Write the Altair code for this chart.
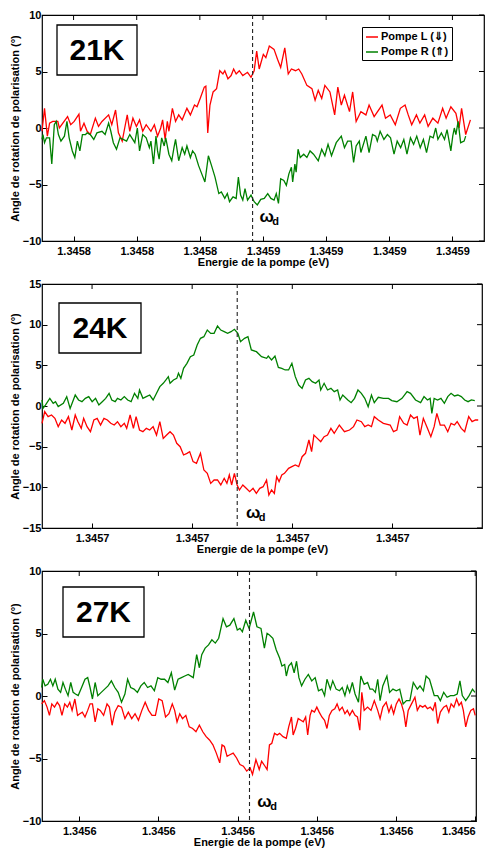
import altair as alt
import pandas as pd

# ---------------- data ----------------
SERIES = ["Pompe L (⇓)", "Pompe R (⇑)"]
COLORS = ["#ff0000", "#008000"]
TEMPS = ["21K", "24K", "27K"]
Y_TITLE = "Angle de rotation de polarisation (°)"
X_TITLE = "Energie de la pompe (eV)"

# energies are given as offsets (µeV) from a reference energy (eV) per panel
E_REF = [1.34579, 1.34567, 1.34555]
OMEGA_D = [1.3458567, 1.3456945, 1.3455815]
X_DOMAIN = [[1.34579, 1.34593], [1.345675, 1.34571895], [1.3455553, 1.3456101]]
X_TICKS = [[1.34580, 1.34582, 1.34584, 1.34586, 1.34588, 1.34590, 1.34592],
           [1.34568, 1.34569, 1.34570, 1.34571],
           [1.34556, 1.34557, 1.34558, 1.34559, 1.34560, 1.34561]]
Y_DOMAIN = [[-10, 10], [-15, 15], [-10, 10]]
Y_TICKS = [[-10, -5, 0, 5, 10], [-15, -10, -5, 0, 5, 10, 15], [-10, -5, 0, 5, 10]]

# ---- 21K ----
x21_L = [0.0, 0.8, 1.7, 2.4, 3.4, 5.0, 5.5, 8.1, 9.1, 10.2, 11.7, 12.2, 13.3, 14.3, 15.3, 16.9, 17.9, 19.0,
         21.1, 22.1, 23.3, 24.2, 25.4, 26.2, 27.0, 27.8, 28.8, 29.9, 30.9, 31.9, 33.0, 34.5, 35.6, 36.6,
         37.6, 38.2, 39.0, 39.7, 40.2, 41.3, 42.3, 43.3, 44.4, 45.9, 47.0, 48.3, 49.1, 50.1, 51.4, 51.9,
         52.5, 53.2, 54.2, 55.3, 56.3, 57.3, 57.9, 58.9, 59.9, 60.7, 61.5, 62.5, 63.6, 65.1, 66.2, 67.2,
         68.0, 68.8, 70.1,
         70.9, 72.0, 73.5, 74.6, 75.6, 76.9, 78.0, 79.0, 80.3, 81.3, 82.3, 83.9, 85.5, 86.5, 87.5, 88.6,
         89.6, 91.2, 92.7, 93.7, 94.8, 95.8, 97.4, 98.4, 99.5, 101.0, 102.6, 103.6, 105.2, 107.7, 108.8,
         110.3, 111.9, 113.5, 115.0, 116.0, 117.1, 118.6, 119.7, 121.2, 122.3, 123.8, 125.4, 126.9, 128.0,
         129.5, 131.1, 132.1, 132.9, 134.2, 135.7]
y21_L = [-0.29, 1.74, -0.72, 0.43, 0.58, 0.58, 0.0, 1.01, 0.29, 0.58, 1.22, -0.29, 0.43, -0.29, -0.58, 0.87,
         0.14, 0.58, 1.16, 0.29, 1.59, -0.43, -1.16, 0.0, 1.16, -0.29, 0.87, 0.14, 0.72, -0.29, 0.29, -0.29,
         0.29, -0.72, 0.0, 0.72, -1.01, 0.58, -0.29, 1.74, 0.58, 1.16, 0.72, 1.74, 1.16, 2.03, 1.88, 2.61,
         3.62, 3.71, -0.43, 2.03, 3.19, 3.48, 5.07, 4.78, 5.07, 4.35, 4.64, 5.22, 4.78, 5.07, 4.64, 4.93,
         4.49, 5.07, 6.81, 5.22, 6.52,
         6.23, 7.25, 6.96, 6.09, 5.36, 7.10, 4.78, 5.22, 5.07, 5.22, 4.78, 3.77, 3.48, 2.46, 3.33, 2.61,
         3.77, 3.19, 1.16, 3.62, 2.03, 2.90, 1.45, 3.19, 0.58, 1.45, 1.16, 2.03, 1.01, 2.03, 0.87, 1.16,
         0.29, 1.74, 2.03, 1.16, 0.29, 1.16, 0.43, 1.16, 0.14, 0.87, 0.43, 1.74, 0.87, 1.88, 1.30, 0.0,
         1.74, -0.58, 0.72]
x21_R = [0.0, 0.3, 0.8, 1.4, 2.4, 3.1, 3.9, 4.5, 5.2, 6.0, 7.1, 7.9, 8.6, 9.6, 10.4, 11.2, 12.0, 12.8, 13.8,
         14.3, 15.3, 16.4, 17.4, 19.0, 20.0, 21.1, 21.8, 22.6, 23.6, 24.7, 25.7, 26.8, 27.8, 29.4, 30.2,
         30.9, 31.9, 33.0, 34.0, 34.5, 35.3, 36.1, 36.6, 37.1, 37.9, 38.7, 39.2, 40.2, 41.1, 41.8, 42.3,
         43.3, 44.4, 45.2, 45.9, 47.0, 47.7, 48.5, 49.6, 50.6, 51.6, 52.7, 53.7, 54.8, 56.0, 56.8, 57.9,
         58.7, 59.4, 60.5, 61.5, 62.2, 62.9, 63.6, 64.3, 65.1, 66.2, 67.2, 68.2, 69.3,
         70.4, 71.5, 72.5, 73.5, 74.2, 74.9, 75.6, 76.6, 77.4, 78.2, 79.0, 79.4, 80.1, 80.5, 81.1, 81.8,
         82.9, 83.9, 84.9, 86.0, 87.5, 88.6, 89.6, 90.6, 91.7, 93.2, 94.8, 95.8, 96.8, 97.9, 98.7, 99.5,
         100.5, 101.0, 102.6, 103.6, 104.7, 105.7, 106.2, 107.1, 108.3, 109.4, 110.4, 111.5, 112.5, 113.6,
         114.6, 115.6, 116.7, 117.7, 118.7, 119.8, 120.8, 121.8, 122.9, 123.9, 124.7, 125.4, 126.5, 127.5,
         128.3, 129.5, 130.1, 130.6, 131.1, 131.8, 132.6, 133.7, 134.2]
y21_R = [-1.01, -0.58, -1.30, -0.87, -0.87, -3.19, 0.29, 0.58, -0.58, -1.16, -0.72, 0.58, -0.87, -2.03,
         -2.61, -1.16, -2.03, -0.58, -0.58, -0.43, -0.58, -1.01, -0.43, -0.29, -0.58, 0.43, -0.29, -1.30,
         -1.88, -0.87, -1.01, -1.16, -0.58, -1.30, 0.0, -2.03, -0.58, -0.87, -1.74, -1.16, -3.19, -0.72,
         -2.03, -2.75, -0.87, -1.59, -0.87, -2.32, -2.90, -1.74, -1.01, -2.90, -1.74, -2.32, -1.59, -2.61,
         -2.03, -2.32, -3.33, -4.06, -4.78, -2.46, -3.33, -4.35, -5.80, -5.65, -6.23, -5.80, -6.52, -6.09,
         -6.23, -4.35, -5.94, -6.38, -5.36, -6.38, -5.94, -6.52, -6.81, -6.32,
         -6.23, -5.80, -6.23, -6.38, -5.80, -6.67, -4.49, -4.64, -5.07, -4.06, -3.48, -4.78, -3.19, -3.91,
         -1.88, -2.61, -2.32, -2.61, -2.03, -2.32, -2.90, -1.88, -2.46, -1.45, -2.46, -1.30, -0.72, -1.74,
         -1.16, -1.16, -3.04, -1.59, -1.16, -2.17, -0.72, -2.17, -0.58, -0.72, -1.16, -0.29, -1.01, -0.58,
         -0.87, -2.32, -1.16, -1.74, -1.01, -2.32, -0.87, -1.45, -0.72, -1.74, -1.01, -2.17, -0.72, -0.87,
         0.0, -1.01, -0.43, -1.01, -0.14, -2.03, -0.72, 0.0, -0.58, 0.58, -1.30, -1.16, -0.72]

# ---- 24K ----
x24_L = [5.00, 5.27, 5.61, 5.95, 6.29, 6.62, 6.96, 7.30, 7.64, 7.98, 8.32, 8.59, 8.92, 9.16, 9.50, 9.84,
         10.18, 10.51, 10.85, 11.19, 11.53, 11.87, 12.21, 12.54, 12.88, 13.22, 13.46, 13.80, 14.13, 14.40,
         14.74, 15.08, 15.42, 15.76, 16.10, 16.44, 16.77, 17.11, 17.45, 17.79, 18.13, 18.46, 18.80, 19.14,
         19.48, 19.75, 20.09, 20.43, 20.83, 21.17, 21.51, 21.85, 22.19, 22.53, 22.86, 23.20, 23.47, 23.71,
         23.94, 24.22, 24.49, 24.72, 25.06, 25.40, 25.74, 26.08, 26.41, 26.75, 27.09, 27.43,
         27.66, 27.93, 28.21, 28.44, 28.68, 28.95, 29.22, 29.63, 29.96, 30.30, 30.64, 30.98, 31.32, 31.66,
         31.93, 32.16, 32.50, 32.84, 33.18, 33.52, 33.86, 34.19, 34.70, 35.21, 35.72, 36.12, 36.46, 36.90,
         37.24, 37.58, 37.91, 38.19, 38.59, 39.10, 39.78, 40.11, 40.45, 40.72, 41.13, 41.47, 41.81, 42.14,
         42.48, 42.75, 43.09, 43.50, 43.84, 44.17, 44.44, 44.78, 45.19, 45.53, 45.86, 46.20, 46.47, 46.88,
         47.22, 47.62, 47.96, 48.30, 48.57]
y24_L = [-2.13, -0.70, -1.31, -1.11, -1.52, -2.54, -1.72, -2.13, -1.31, -2.95, -1.11, -1.93, -2.75, -1.52,
         -2.54, -3.16, -1.72, -1.52, -2.34, -1.52, -1.72, -2.13, -2.34, -1.93, -2.54, -2.13, -2.75, -1.11,
         -2.75, -1.31, -2.95, -3.16, -2.75, -2.95, -2.54, -3.57, -1.93, -3.98, -3.57, -3.16, -3.57, -4.59,
         -5.00, -6.02, -5.82, -5.61, -6.84, -7.05, -5.82, -7.87, -8.28, -9.51, -9.10, -9.10, -9.71, -8.89,
         -9.51, -8.48, -9.71, -8.28, -9.71, -10.33, -9.71, -10.12, -10.53, -10.12, -10.74, -10.12, -9.92,
         -9.10,
         -10.94, -10.33, -10.74, -8.69, -9.30, -8.48, -8.28, -7.66, -7.46, -7.25, -7.46, -6.23, -5.82,
         -4.18, -5.61, -3.57, -3.98, -4.39, -3.77, -3.57, -2.75, -3.36, -2.34, -3.16, -2.95, -2.54, -1.72,
         -1.93, -2.54, -2.34, -2.54, -1.31, -1.72, -2.13, -2.34, -3.16, -2.95, -1.31, -2.13, -2.34, -1.11,
         -1.52, -1.31, -3.57, -1.52, -2.75, -3.77, -2.54, -0.90, -2.34, -2.34, -3.16, -2.13, -2.34, -1.93,
         -2.75, -3.16, -1.31, -1.93, -1.72, -1.72]
x24_R = [5.00, 5.10, 5.34, 5.78, 6.12, 6.35, 6.62, 7.13, 7.47, 7.81, 8.32, 8.65, 8.99, 9.33, 9.67, 10.01,
         10.35, 10.68, 11.02, 11.36, 11.70, 11.97, 12.31, 12.54, 12.88, 13.22, 13.56, 13.90, 14.24, 14.57,
         14.74, 15.08, 15.42, 15.76, 16.10, 16.44, 16.77, 17.11, 17.38, 17.62, 17.79, 18.13, 18.46, 18.63,
         18.87, 19.14, 19.48, 19.82, 20.16, 20.50, 20.83, 21.17, 21.51, 21.85, 22.19, 22.53, 22.86, 23.20,
         23.54, 23.88, 24.22, 24.56, 24.83, 25.23, 25.57, 25.91, 26.42, 26.93, 27.44,
         27.60, 27.93, 28.27, 28.61, 28.95, 29.29, 29.63, 29.96, 30.30, 30.64, 30.98, 31.32, 31.66, 31.99,
         32.33, 32.67, 32.84, 33.18, 33.52, 33.86, 34.19, 34.53, 34.77, 35.04, 35.55, 35.88, 36.22, 36.56,
         36.90, 37.24, 37.58, 37.91, 38.19, 38.59, 39.10, 39.61, 39.94, 40.45, 40.96, 41.47, 41.81, 42.31,
         42.82, 43.16, 43.50, 43.77, 43.94, 44.17, 44.51, 44.85, 45.19, 45.53, 45.86, 46.20, 46.54, 46.88,
         47.22, 47.56, 47.89, 48.23]
y24_R = [0.74, -0.29, 0.12, 0.94, 0.33, 0.53, -0.08, 0.33, 1.15, -0.29, 1.35, 0.74, 0.53, 0.94, 1.15, 0.53,
         0.94, 0.12, 0.53, 0.94, 1.56, 0.74, 0.53, 0.94, 0.74, 1.15, 0.74, 0.53, 1.56, 0.94, 1.97, 0.94,
         1.15, 1.35, 0.74, 1.56, 2.38, 2.79, 3.20, 3.61, 2.79, 3.20, 3.40, 4.02, 3.40, 4.63, 5.25, 6.07,
         6.27, 7.50, 8.32, 8.52, 9.34, 8.93, 8.93, 9.84, 9.34, 9.14, 8.93, 9.14, 9.43, 8.93, 7.91, 8.32,
         8.52, 6.89, 6.68, 6.07, 5.86,
         6.15, 5.66, 6.15, 4.75, 4.63, 4.43, 4.43, 5.25, 3.61, 2.58, 2.17, 3.20, 3.40, 2.99, 2.79, 3.20,
         1.97, 2.79, 1.97, 2.17, 1.76, 1.97, 0.74, 1.35, 0.74, 0.41, 0.94, 1.97, 1.56, 0.94, -0.08, 1.35,
         0.41, 1.07, 0.94, 0.94, 0.66, 0.53, 0.94, 1.76, 1.56, 0.74, 0.41, 1.15, 0.74, 0.94, -0.90, 0.94,
         0.74, 0.94, 0.33, 1.15, 1.56, 1.23, 1.35, 1.15, 0.74, 0.53, 0.74, 0.66]

# ---- 27K ----
x27_L = [5.26, 5.60, 5.94, 6.24, 6.54, 6.88, 7.23, 7.52, 7.82, 8.17, 8.51, 8.81, 9.10, 9.45, 9.79, 10.09,
         10.39, 10.73, 11.07, 11.37, 11.67, 12.01, 12.35, 12.65, 13.08, 13.51, 13.81, 14.15, 14.49, 14.92,
         15.34, 15.77, 16.20, 16.63, 17.05, 17.48, 17.91, 18.33, 18.76, 19.19, 19.62, 20.04, 20.47, 20.90,
         21.33, 21.75, 22.05, 22.35, 22.69, 23.04, 23.46, 23.89, 24.32, 24.74, 25.17, 25.60, 26.03, 26.45,
         26.88, 27.31, 27.74, 28.03, 28.33, 28.67, 29.02, 29.44, 29.87, 30.30, 30.73, 31.15, 31.58, 31.88,
         32.31, 32.73, 33.03, 33.46,
         33.72, 34.02, 34.32, 34.66, 35.00, 35.30, 35.73, 36.15, 36.45, 36.80, 37.01, 37.31, 37.65, 37.99,
         38.29, 38.59, 38.85, 39.15, 39.36, 39.70, 40.00, 40.30, 40.64, 40.98, 41.28, 41.58, 41.92, 42.27,
         42.56, 42.86, 43.21, 43.55, 43.85, 44.15, 44.49, 44.83, 45.13, 45.43, 45.68, 45.98, 46.41, 46.84,
         47.26, 47.69, 47.99, 48.33, 48.76, 49.10, 49.40, 49.70, 50.04, 50.38, 50.68, 50.98, 51.24, 51.54,
         51.96, 52.39, 52.69, 53.03, 53.37, 53.67, 53.97, 54.32, 54.66, 54.96, 55.26, 55.60, 56.02, 56.37,
         56.67, 56.96, 57.31, 57.65, 57.95, 58.25, 58.50, 58.80, 59.10, 59.44, 59.78, 60.00]
y27_L = [-0.63, -0.37, -0.89, -1.55, -0.63, -0.89, -0.50, -0.76, -1.55, -0.63, -0.89, -0.50, -1.15, -0.24,
         -1.55, -1.42, -1.29, -1.68, -1.15, -0.63, -0.63, -2.07, -1.02, -1.15, -1.55, -0.63, -0.89, -2.34,
         -1.29, -0.76, -0.89, -1.81, -1.29, -1.81, -1.42, -1.94, -1.15, -0.50, -1.15, -1.55, -1.55, -0.24,
         -0.37, -1.68, -1.42, -0.63, -1.15, -2.07, -1.42, -1.81, -1.55, -2.47, -2.60, -2.86, -2.34, -2.86,
         -3.25, -3.52, -3.91, -4.57, -5.35, -3.91, -4.04, -4.83, -4.70, -4.57, -4.96, -5.49, -5.62, -6.01,
         -5.75, -6.27, -5.09, -5.88, -5.22, -5.62,
         -5.88, -3.91, -3.78, -2.99, -3.12, -2.99, -3.25, -3.39, -2.47, -1.68, -3.12, -2.60, -1.81, -1.94,
         -2.07, -1.68, -3.12, -1.55, -1.15, -1.29, -0.89, -1.29, -1.68, -1.94, -2.60, -1.55, -1.15, -1.02,
         -0.63, -1.15, -0.89, -1.42, -1.15, -1.55, -1.15, -1.55, -1.68, -2.73, 0.29, -1.15, -0.89, -1.15,
         -0.37, -1.15, -1.81, -0.89, -0.50, -1.29, -0.76, -1.42, -0.63, -0.24, -0.63, -1.29, -2.47, -1.15,
         -0.63, -0.10, -1.15, -0.76, -0.89, -0.76, -1.02, -0.89, -1.15, -0.50, -2.20, -1.29, -0.89, -0.76,
         -1.29, -0.63, -0.89, -0.24, -0.76, -0.50, -1.15, -2.47, -1.68, -1.15, -1.02, -1.55]
x27_R = [5.26, 5.39, 5.69, 6.03, 6.37, 6.67, 6.97, 7.31, 7.65, 7.95, 8.25, 8.59, 8.93, 9.23, 9.53, 9.87,
         10.30, 10.73, 11.07, 11.37, 11.67, 12.01, 12.35, 12.78, 13.21, 13.64, 14.06, 14.49, 14.92, 15.34,
         15.77, 16.11, 16.50, 16.92, 17.35, 17.78, 18.21, 18.63, 19.06, 19.49, 19.92, 20.34, 20.77, 21.20,
         21.63, 22.05, 22.48, 22.91, 23.33, 23.76, 24.40, 24.83, 25.17, 25.47, 25.90, 26.33, 26.75, 27.18,
         27.61, 28.16, 28.59, 29.02, 29.53, 29.96, 30.30, 30.60, 31.03, 31.45, 32.01, 32.44, 32.95, 33.38,
         33.72, 34.02, 34.45, 34.87, 35.30, 35.60, 35.94, 36.15, 36.45, 36.80, 37.14, 37.44, 37.74, 38.08,
         38.50, 38.93, 39.36, 39.79, 40.21, 40.64, 40.98, 41.28, 41.71, 42.01, 42.44, 42.86, 43.21, 43.55,
         43.85, 44.15, 44.49, 44.83, 45.26, 45.56, 45.98, 46.41, 46.71, 47.05, 47.39, 47.69, 47.99, 48.33,
         48.85, 49.19, 49.61, 50.04, 50.47, 50.90, 51.32, 51.75, 52.18, 52.69, 53.03, 53.46, 53.80, 54.23,
         54.53, 54.83, 55.26, 55.60, 56.02, 56.45, 56.88, 57.31, 57.73, 58.07, 58.37, 58.80, 59.23, 59.66,
         59.96]
y27_R = [0.68, 1.34, 0.81, 0.94, 1.34, 0.81, 1.34, 0.55, 0.29, 1.08, 0.55, 0.03, 1.08, 0.29, 0.16, 0.03,
         0.68, 1.34, 1.47, 0.68, -0.24, 1.08, 0.03, 0.29, 0.55, 0.81, 1.21, 0.68, 0.29, -0.50, 0.16, 1.34,
         0.68, 0.55, 0.29, 0.81, 1.08, 0.68, 0.81, 0.42, 1.47, 1.34, 1.34, 1.08, 1.86, 0.47, 1.34, 1.47,
         1.60, 1.73, 1.47, 3.31, 2.26, 3.31, 3.83, 4.09, 4.49, 4.23, 4.62, 6.19, 5.54, 5.67, 6.19, 5.28,
         5.41, 5.14, 6.06, 5.41, 6.72, 5.54, 5.41, 3.83,
         5.01, 4.88, 4.62, 3.70, 3.04, 2.39, 2.52, 1.60, 2.39, 2.65, 1.86, 2.78, 1.47, 0.81, 1.34, 1.73,
         1.21, 1.47, 0.42, 0.55, 0.03, 1.34, 0.55, 1.21, 0.55, 0.42, 0.68, 0.03, 0.81, 0.29, 1.08, 0.16,
         -0.50, 1.60, 0.94, 1.08, 0.55, 0.55, 0.29, 1.34, -0.37, 0.81, 1.60, 0.29, 0.55, 0.42, 0.55, -0.63,
         -0.37, -0.37, 1.08, 0.55, 0.81, 0.42, 1.60, 1.34, 0.68, 0.03, 0.03, -0.37, 0.29, -0.10, 0.03, 0.03,
         0.16, 1.21, 0.03, -0.37, 0.03, 0.55, 0.29]

PANELS = [(x21_L, y21_L, x21_R, y21_R), (x24_L, y24_L, x24_R, y24_R), (x27_L, y27_L, x27_R, y27_R)]

# ---------------- layout / style ----------------
FONT = "Liberation Sans"
SIZES = [(442, 226), (440, 244), (434, 250)]
BOX = [(15, 95, 10, 60), (17, 99, 19, 69), (21, 102, 16, 66)]
OMEGA_DX = [14, 16, 15]
OMEGA_UP = [24, 15, 19]
TICK = 5


def make_panel(i):
    xl, yl, xr, yr = PANELS[i]
    ref = E_REF[i]
    w, h = SIZES[i]
    n = min(len(xl), len(yl))
    m = min(len(xr), len(yr))
    df = pd.DataFrame({
        "energie": [ref + v * 1e-6 for v in xl[:n]] + [ref + v * 1e-6 for v in xr[:m]],
        "angle": yl[:n] + yr[:m],
        "serie": [SERIES[0]] * n + [SERIES[1]] * m,
    })
    xscale = alt.Scale(domain=X_DOMAIN[i], nice=False, zero=False)
    yscale = alt.Scale(domain=Y_DOMAIN[i], nice=False, zero=False)

    if i == 0:
        legend = alt.Legend(orient="none", legendX=w - 122, legendY=12, title=None,
                            fillColor="white", strokeColor="black", padding=3,
                            labelFont=FONT, labelFontWeight="bold", labelFontSize=11,
                            labelColor="black", symbolType="stroke", symbolSize=144,
                            symbolStrokeWidth=1.5, rowPadding=3, labelOffset=2)
    else:
        legend = None

    lines = alt.Chart(df).mark_line(strokeWidth=1.3).encode(
        x=alt.X("energie:Q", scale=xscale,
                axis=alt.Axis(orient="bottom", values=X_TICKS[i], format=".4f", title=X_TITLE,
                              offset=-TICK, tickSize=TICK, domain=False, grid=False,
                              labelFlush=(i == 2), labelOverlap=False, labelPadding=4,
                              titlePadding=0, tickColor="black")),
        y=alt.Y("angle:Q", scale=yscale,
                axis=alt.Axis(orient="left", values=Y_TICKS[i], title=Y_TITLE,
                              offset=-TICK, tickSize=TICK, domain=False, grid=False,
                              labelPadding=1, titlePadding=2, tickColor="black")),
        color=alt.Color("serie:N", scale=alt.Scale(domain=SERIES, range=COLORS), legend=legend),
    )

    # mirrored inward ticks on the top and right edges (box style)
    top_ticks = alt.Chart(pd.DataFrame({"t": X_TICKS[i]})).mark_rule(
        color="black", strokeWidth=1).encode(
        x=alt.X("t:Q", scale=xscale, axis=None), y=alt.value(0), y2=alt.value(TICK))
    right_ticks = alt.Chart(pd.DataFrame({"t": Y_TICKS[i]})).mark_rule(
        color="black", strokeWidth=1).encode(
        y=alt.Y("t:Q", scale=yscale, axis=None), x=alt.value(w - TICK), x2=alt.value(w))

    wd_df = pd.DataFrame({"w": [OMEGA_D[i]], "o": ["ω"], "d": ["d"]})
    dashed = alt.Chart(wd_df).mark_rule(color="#222222", strokeDash=[4, 3], strokeWidth=1.1).encode(
        x=alt.X("w:Q", scale=xscale, axis=None))
    omega = alt.Chart(wd_df).mark_text(font=FONT, fontWeight="bold", fontSize=17, color="black",
                                       dx=OMEGA_DX[i], align="center", baseline="middle").encode(
        x=alt.X("w:Q", scale=xscale, axis=None),
        y=alt.value(h - OMEGA_UP[i]),
        text="o:N",
    )
    sub = alt.Chart(wd_df).mark_text(font=FONT, fontWeight="bold", fontSize=11, color="black",
                                     dx=OMEGA_DX[i] + 9, dy=5, align="center",
                                     baseline="middle").encode(
        x=alt.X("w:Q", scale=xscale, axis=None),
        y=alt.value(h - OMEGA_UP[i]),
        text="d:N",
    )

    lab_df = pd.DataFrame({"t": [TEMPS[i]]})
    bx0, bx1, by0, by1 = BOX[i]
    box = alt.Chart(lab_df).mark_rect(fill="white", stroke="black", strokeWidth=1.3).encode(
        x=alt.value(bx0), x2=alt.value(bx1), y=alt.value(by0), y2=alt.value(by1))
    txt = alt.Chart(lab_df).mark_text(font=FONT, fontWeight="bold", fontSize=30, color="black",
                                      align="center", baseline="middle").encode(
        x=alt.value((bx0 + bx1) / 2), y=alt.value((by0 + by1) / 2 + 1), text="t:N")

    return alt.layer(lines, top_ticks, right_ticks, dashed, omega, sub, box, txt).resolve_axis(
        x="independent", y="independent").properties(width=w, height=h)


chart = alt.vconcat(make_panel(0), make_panel(1), make_panel(2), spacing=43, bounds="flush").resolve_scale(
    color="independent", x="independent", y="independent"
).properties(
    padding={"left": 0, "top": 0, "right": 0, "bottom": 0}
).configure_view(
    stroke="black", strokeWidth=1.2
).configure_axis(
    labelFont=FONT, labelFontSize=11, labelFontWeight="bold", labelColor="black",
    titleFont=FONT, titleFontSize=11, titleFontWeight="bold", titleColor="black",
)

chart.save("out.html", embed_options={"renderer": "svg", "actions": False})
